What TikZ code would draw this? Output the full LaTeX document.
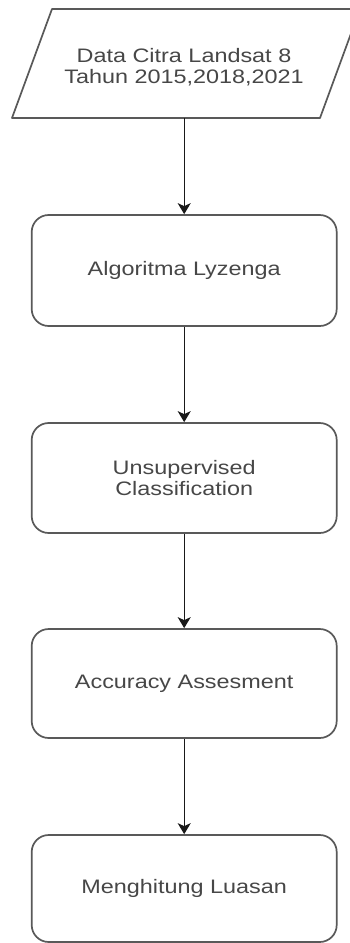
\documentclass[tikz,border=0pt]{standalone}
\usepackage{fontspec}
\setmainfont[FakeStretch=1.2]{Liberation Sans}
\usetikzlibrary{arrows.meta}
\begin{document}
\begin{tikzpicture}[x=1pt,y=-1pt,
  proc/.style={draw=black!65, line width=1.7pt, rounded corners=17pt,
    minimum width=305pt, minimum height=109pt, inner sep=0pt, align=center,
    text=black!72, font=\fontsize{19.5}{20.5}\selectfont},
  txt/.style={align=center, inner sep=0pt, text=black!72, font=\fontsize{19.5}{20.5}\selectfont},
  shapeline/.style={draw=black!65, line width=1.7pt, line join=round},
  conn/.style={draw=black!90, line width=1.4pt, -{Stealth[width=13pt,length=11pt,inset=3pt]}}]
\useasboundingbox (0,0) rectangle (350,943);
\clip (0,0) rectangle (350,943);
\fill[white] (0,0) rectangle (350,943);
% input parallelogram
\draw[shapeline] (52,9) -- (360,9) -- (320,118) -- (12,118) -- cycle;
\node[txt] (data) at (184,67) {Data Citra Landsat 8\\Tahun 2015,2018,2021};
\coordinate (dbot) at (184.2,118);
% process boxes
\node[proc, minimum height=111pt] (b1) at (184.2,270.5) {Algoritma Lyzenga};
\node[proc, minimum height=110pt] (b2) at (184.2,478) {Unsupervised\\Classification};
\node[proc] (b3) at (184.2,683.5) {Accuracy Assesment};
\node[proc, minimum height=107pt] (b4) at (184.2,888.5) {Menghitung Luasan};
% connectors
\draw[conn] (dbot) -- (b1.north);
\draw[conn] (b1.south) -- (b2.north);
\draw[conn] (b2.south) -- (b3.north);
\draw[conn] (b3.south) -- (b4.north);
\end{tikzpicture}
\end{document}
